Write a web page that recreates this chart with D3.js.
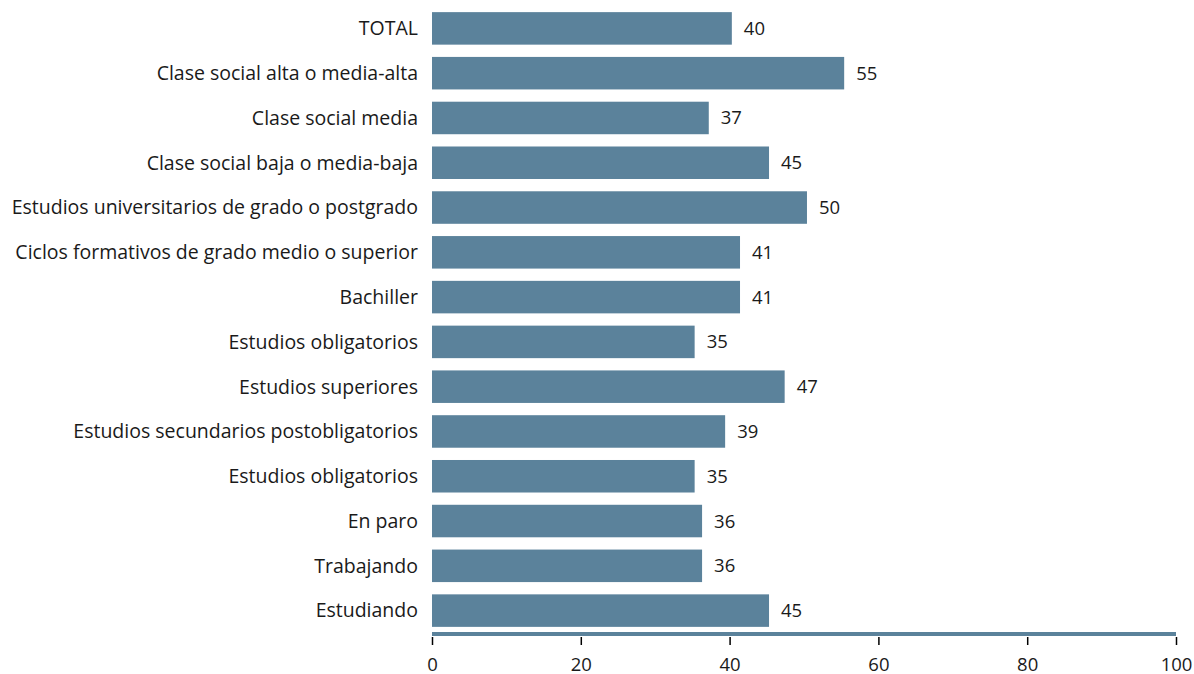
<!DOCTYPE html>
<html><head><meta charset="utf-8">
<script src="https://cdn.jsdelivr.net/npm/d3@7"></script>
<style>body{margin:0;background:#fff}svg{display:block}text{font-family:"Open Sans","Noto Sans",sans-serif;fill:#1a1a1a}</style>
</head><body><svg id="c" width="1194" height="674"></svg>
<script>
const categories = ["TOTAL","Clase social alta o media-alta","Clase social media","Clase social baja o media-baja","Estudios universitarios de grado o postgrado","Ciclos formativos de grado medio o superior","Bachiller","Estudios obligatorios","Estudios superiores","Estudios secundarios postobligatorios","Estudios obligatorios","En paro","Trabajando","Estudiando"];
const values = [40.3,55.4,37.2,45.3,50.4,41.4,41.4,35.3,47.4,39.4,35.3,36.3,36.3,45.3];
const ticks = [0,20,40,60,80,100];
const color = "#5b829b";

const svg = d3.select("#c");
const x = d3.scaleLinear().domain([0,100]).range([432,1176]);
const y = d3.scaleBand().domain(d3.range(categories.length)).range([6,633]).paddingInner(0.274).paddingOuter(0.137);

svg.selectAll("rect.bar").data(values).join("rect").attr("class","bar")
  .attr("x",x(0)).attr("y",(d,i)=>y(i)).attr("width",d=>x(d)-x(0)).attr("height",y.bandwidth()).attr("fill",color);

svg.selectAll("text.cat").data(categories).join("text").attr("class","cat")
  .attr("x",x(0)-14).attr("y",(d,i)=>y(i)+y.bandwidth()/2).attr("dy","0.35em")
  .attr("text-anchor","end").attr("font-size",19.5).text(d=>d);

svg.selectAll("text.val").data(values).join("text").attr("class","val")
  .attr("x",d=>x(d)+12).attr("y",(d,i)=>y(i)+y.bandwidth()/2).attr("dy","0.35em")
  .attr("font-size",18.5).text(d=>Math.round(d));

const ax = svg.append("g").attr("transform","translate(0,633)")
  .call(d3.axisBottom(x).tickValues(ticks).tickSize(0).tickPadding(25));
ax.select(".domain").remove();
ax.selectAll("text").attr("font-size",18.5).attr("font-family",'"Open Sans","Noto Sans",sans-serif').attr("fill","#1a1a1a");
ax.selectAll(".tick").append("line").attr("y1",4).attr("y2",12).attr("stroke","#000").attr("stroke-width",1.5);
svg.append("rect").attr("x",x(0)).attr("y",632).attr("width",x(100)-x(0)).attr("height",4).attr("fill",color);
</script></body></html>
